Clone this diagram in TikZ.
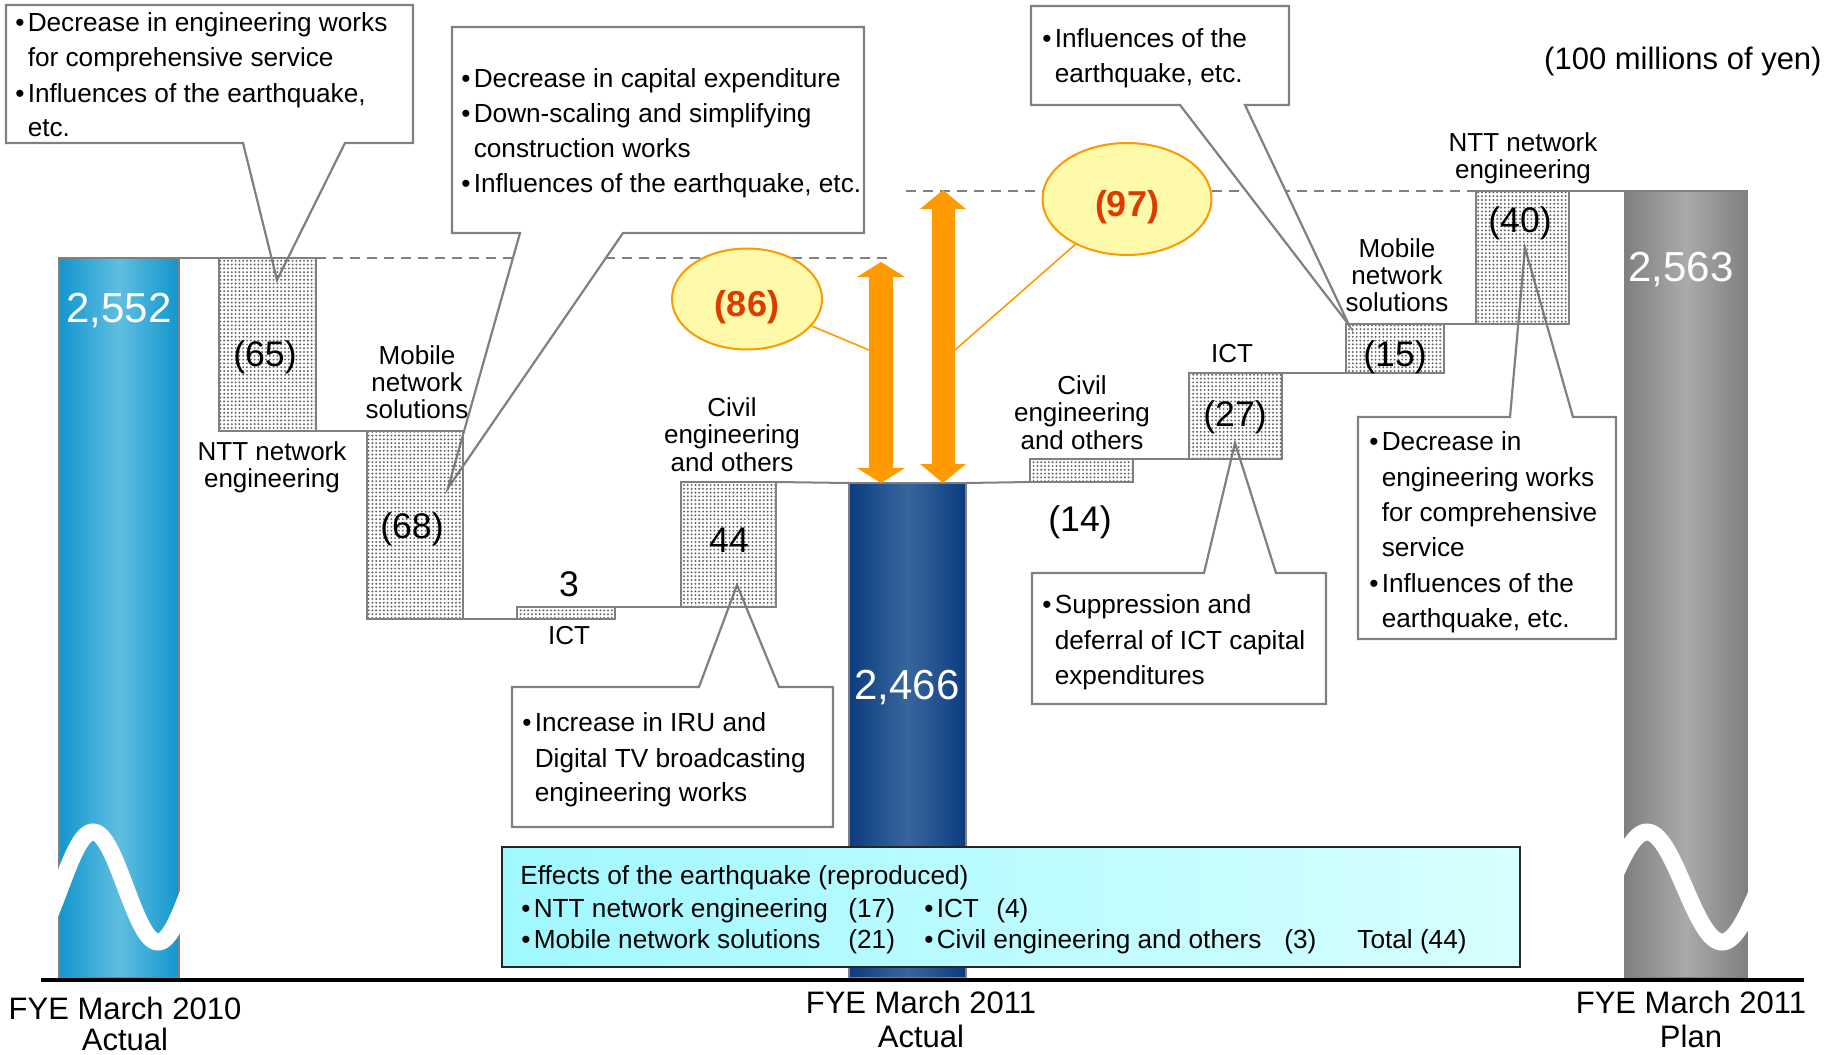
\documentclass[tikz,border=0pt]{standalone}
\usepackage{fontspec}
\setmainfont{Liberation Sans}
\usetikzlibrary{shapes.geometric,patterns.meta}

\definecolor{barBlueEdge}{RGB}{18,150,205}
\definecolor{barBlueMid}{RGB}{95,190,225}
\definecolor{barNavyEdge}{RGB}{12,60,128}
\definecolor{barNavyMid}{RGB}{56,102,156}
\definecolor{barGrayEdge}{RGB}{128,128,128}
\definecolor{barGrayMid}{RGB}{170,170,170}
\definecolor{lineGray}{RGB}{128,128,128}
\definecolor{arrowOrange}{RGB}{255,153,0}
\definecolor{bubbleFill}{RGB}{255,250,170}
\definecolor{valueRed}{RGB}{220,60,0}
\definecolor{effectsLeft}{RGB}{160,248,255}
\definecolor{effectsRight}{RGB}{215,255,255}

% bullet with a little gap before the text
\newcommand\bul{•\kern1.6pt}
\newcommand\bulgap{\phantom{\bul}}

\begin{document}
\begin{tikzpicture}[x=0.5pt,y=-0.5pt,
  barline/.style={draw=lineGray, line width=0.6pt},
  boxfill/.style={fill=white},
  dotbox/.style={draw=lineGray, line width=1pt, pattern={Dots[distance=1.9pt,radius=0.55pt]}, pattern color=black!60},
  joinline/.style={draw=lineGray, line width=1pt},
  guide/.style={draw=lineGray, line width=1pt, dash pattern=on 5pt off 3.5pt},
  callout/.style={draw=lineGray, fill=white, line width=1.1pt, line join=miter},
  note/.style={font=\fontsize{13.1}{15}\selectfont, inner sep=0pt, anchor=base west},
  lbl/.style={font=\fontsize{13}{15}\selectfont, inner sep=0pt, anchor=base},
  num/.style={font=\fontsize{17.8}{20}\selectfont, inner sep=0pt, anchor=base},
  total/.style={font=\fontsize{21}{23}\selectfont, inner sep=0pt, anchor=base, text=white},
  yearlbl/.style={font=\fontsize{15.5}{18}\selectfont, inner sep=0pt, anchor=base},
  bubble/.style={ellipse, draw=arrowOrange, line width=1pt, fill=bubbleFill, inner sep=0pt},
  bubbletext/.style={font=\bfseries\fontsize{18}{20}\selectfont, text=valueRed, inner sep=0pt, anchor=base},
  bigarrow/.style={fill=arrowOrange},
  leader/.style={draw=arrowOrange, line width=0.8pt},
  wave/.style={draw=white, line width=8.5pt},
  effects/.style={draw=black!85, line width=1.1pt, left color=effectsLeft, right color=effectsRight},
  axisline/.style={draw=black, line width=2pt},
]
\useasboundingbox (0,0) rectangle (1837,1055);

% ---- corner coordinates of the bars and step boxes
\coordinate (barAnw) at (59,258);   \coordinate (barAse) at (179,978);
\coordinate (barBnw) at (849,483);  \coordinate (barBse) at (966,978);
\coordinate (barCnw) at (1625,191); \coordinate (barCse) at (1747,978);
\coordinate (s65nw) at (219,258);   \coordinate (s65se) at (316,431);
\coordinate (s68nw) at (367,431);   \coordinate (s68se) at (463,619);
\coordinate (s3nw) at (517,607);    \coordinate (s3se) at (615,619);
\coordinate (s44nw) at (681,482);   \coordinate (s44se) at (776,607);
\coordinate (s14nw) at (1030,459);  \coordinate (s14se) at (1133,482);
\coordinate (s27nw) at (1189,373);  \coordinate (s27se) at (1282,459);
\coordinate (s15nw) at (1346,324);  \coordinate (s15se) at (1444,373);
\coordinate (s40nw) at (1476,191);  \coordinate (s40se) at (1569,324);

% ---- totals bars
\shade[left color=barBlueEdge, right color=barBlueEdge, middle color=barBlueMid] (barAnw) rectangle (barAse);
\draw[barline] (barAnw) rectangle (barAse);
\shade[left color=barNavyEdge, right color=barNavyEdge, middle color=barNavyMid] (barBnw) rectangle (barBse);
\draw[barline] (barBnw) rectangle (barBse);
\shade[left color=barGrayEdge, right color=barGrayEdge, middle color=barGrayMid] (barCnw) rectangle (barCse);
\draw[barline] (barCnw) rectangle (barCse);

% ---- axis breaks
\draw[wave] plot[domain=42:196, samples=80] (\x, {887-55*sin((\x-60.5)/65*180)});
\draw[wave] plot[domain=1608:1764, samples=80] (\x, {887-55*sin((\x-1609.5)/75*180)});

% ---- step boxes (background)
\foreach \s in {65,68,3,44,14,27,15,40}
  \fill[boxfill] (s\s nw) rectangle (s\s se);

% ---- level guides and joins
\draw[guide] (316,258) -- (893,258);
\draw[guide] (906,191) -- (s40nw);
\draw[joinline] (barAse |- barAnw) -- (s65nw);
\draw[joinline] (s65se) -- (s68nw);
\draw[joinline] (s68se) -- (s3nw |- s3se);
\draw[joinline] (s3se |- s3nw) -- (s44nw |- s44se);
\draw[joinline] (s44se |- s44nw) -- (barBnw);
\draw[joinline] (barBse |- barBnw) -- (s14nw |- s14se);
\draw[joinline] (s14se |- s14nw) -- (s27nw |- s27se);
\draw[joinline] (s27se |- s27nw) -- (s15nw |- s15se);
\draw[joinline] (s15se |- s15nw) -- (s40nw |- s40se);
\draw[joinline] (s40se |- s40nw) -- (barCnw);

% ---- callouts
\coordinate (t1) at (277,280);
\draw[callout] (6,5) -- (413,5) -- (413,143) -- (345,143) -- (t1) -- (243,143) -- (6,143) -- cycle;
\coordinate (t2) at (448,488);
\draw[callout] (452,27) -- (864,27) -- (864,233) -- (623,233) -- (t2) -- (520,233) -- (452,233) -- cycle;
\coordinate (t3) at (1349,325);
\draw[callout] (1031,6) -- (1289,6) -- (1289,105) -- (1245,105) -- (t3) -- (1180,105) -- (1031,105) -- cycle;
\coordinate (t4) at (737,585);
\draw[callout] (512,687) -- (699,687) -- (t4) -- (779,687) -- (833,687) -- (833,827) -- (512,827) -- cycle;
\coordinate (t5) at (1235,443);
\draw[callout] (1032,573) -- (1204,573) -- (t5) -- (1276,573) -- (1326,573) -- (1326,704) -- (1032,704) -- cycle;
\coordinate (t6) at (1525,248);
\draw[callout] (1358,417) -- (1510,417) -- (t6) -- (1573,417) -- (1616,417) -- (1616,639) -- (1358,639) -- cycle;

% ---- step boxes (dotted fill and outline)
\foreach \s in {65,68,3,44,14,27,15,40}
  \draw[dotbox] (s\s nw) rectangle (s\s se);

% ---- difference arrows and bubbles
\fill[bigarrow] (881,262) -- (905,277) -- (893,277) -- (893,468) -- (905,468) -- (881,483)
  -- (857,468) -- (869,468) -- (869,277) -- (857,277) -- cycle;
\fill[bigarrow] (943,190) -- (966,209) -- (955,209) -- (955,464) -- (966,464) -- (943,483)
  -- (920,464) -- (932,464) -- (932,209) -- (920,209) -- cycle;
\coordinate (a86) at (869,350);
\coordinate (a97) at (955,350);
\node[bubble, minimum width=75pt, minimum height=50.5pt] (e86) at (747,299) {};
\node[bubble, minimum width=84.5pt, minimum height=56pt] (e97) at (1127,199) {};
\node[bubbletext] (e86v) at (747,316) {(86)};
\node[bubbletext] (e97v) at (1127,216) {(97)};
\draw[leader] (e86) -- (a86);
\draw[leader] (e97) -- (a97);

% ---- earthquake effects panel
\draw[effects] (502,847) rectangle (1520,967);

% ---- axis
\draw[axisline] (41,980) -- (1804,980);

% ---- bar totals
\node[total] (v2552) at (119,322) {2,552};
\node[total] (v2466) at (907,699) {2,466};
\node[total] (v2563) at (1681,281) {2,563};

% ---- step values
\node[num] (n65) at (265,366) {(65)};
\node[num] (n68) at (412,538) {(68)};
\node[num] (n3) at (569,596) {3};
\node[num] (n44) at (729,552) {44};
\node[num] (n14) at (1080,531) {(14)};
\node[num] (n27) at (1235,426) {(27)};
\node[num] (n15) at (1395,366) {(15)};
\node[num] (n40) at (1520,232) {(40)};

% ---- segment labels
\node[lbl] (ntl1) at (272,460) {NTT network};
\node[lbl] (ntl2) at (272,487) {engineering};
\node[lbl] (mbl1) at (417,364) {Mobile};
\node[lbl] (mbl2) at (417,391) {network};
\node[lbl] (mbl3) at (417,418) {solutions};
\node[lbl] (ictl) at (569,644) {ICT};
\node[lbl] (cvl1) at (732,416) {Civil};
\node[lbl] (cvl2) at (732,443.5) {engineering};
\node[lbl] (cvl3) at (732,471) {and others};
\node[lbl] (cvr1) at (1082,394) {Civil};
\node[lbl] (cvr2) at (1082,421.5) {engineering};
\node[lbl] (cvr3) at (1082,449) {and others};
\node[lbl] (ictr) at (1232,362) {ICT};
\node[lbl] (mbr1) at (1397,257) {Mobile};
\node[lbl] (mbr2) at (1397,284) {network};
\node[lbl] (mbr3) at (1397,311) {solutions};
\node[lbl] (ntr1) at (1523,151) {NTT network};
\node[lbl] (ntr2) at (1523,178) {engineering};

% ---- callout texts
\node[note] (c1a) at (15,31) {\bul Decrease in engineering works};
\node[note] (c1b) at (15,66) {\bulgap for comprehensive service};
\node[note] (c1c) at (15,102) {\bul Influences of the earthquake,};
\node[note] (c1d) at (15,136) {\bulgap etc.};

\node[note] (c2a) at (461,87) {\bul Decrease in capital expenditure};
\node[note] (c2b) at (461,122) {\bul Down-scaling and simplifying};
\node[note] (c2c) at (461,157) {\bulgap construction works};
\node[note] (c2d) at (461,192) {\bul Influences of the earthquake, etc.};

\node[note] (c3a) at (1042,47) {\bul Influences of the};
\node[note] (c3b) at (1042,82) {\bulgap earthquake, etc.};

\node[note] (c4a) at (522,731) {\bul Increase in IRU and};
\node[note] (c4b) at (522,767) {\bulgap Digital TV broadcasting};
\node[note] (c4c) at (522,801) {\bulgap engineering works};

\node[note] (c5a) at (1042,613) {\bul Suppression and};
\node[note] (c5b) at (1042,649) {\bulgap deferral of ICT capital};
\node[note] (c5c) at (1042,684) {\bulgap expenditures};

\node[note] (c6a) at (1369,450) {\bul Decrease in};
\node[note] (c6b) at (1369,486) {\bulgap engineering works};
\node[note] (c6c) at (1369,521) {\bulgap for comprehensive};
\node[note] (c6d) at (1369,556) {\bulgap service};
\node[note] (c6e) at (1369,592) {\bul Influences of the};
\node[note] (c6f) at (1369,627) {\bulgap earthquake, etc.};

% ---- effects panel text
\node[note] (fx0) at (520,884) {Effects of the earthquake (reproduced)};
\node[note] (fx1) at (521,917) {\bul NTT network engineering};
\node[note] (fx1v) at (848,917) {(17)};
\node[note] (fx2) at (924,917) {\bul ICT};
\node[note] (fx2v) at (996,917) {(4)};
\node[note] (fx3) at (521,948) {\bul Mobile network solutions};
\node[note] (fx3v) at (848,948) {(21)};
\node[note] (fx4) at (924,948) {\bul Civil engineering and others};
\node[note] (fx4v) at (1284,948) {(3)};
\node[note] (fx5) at (1357,948) {Total (44)};

% ---- unit and period labels
\node[yearlbl, anchor=base east] (unit) at (1822,69) {(100 millions of yen)};
\node[yearlbl] (y1a) at (125,1019) {FYE March 2010};
\node[yearlbl] (y1b) at (125,1050) {Actual};
\node[yearlbl] (y2a) at (921,1013) {FYE March 2011};
\node[yearlbl] (y2b) at (921,1047) {Actual};
\node[yearlbl] (y3a) at (1691,1013) {FYE March 2011};
\node[yearlbl] (y3b) at (1691,1047) {Plan};
\end{tikzpicture}
\end{document}
